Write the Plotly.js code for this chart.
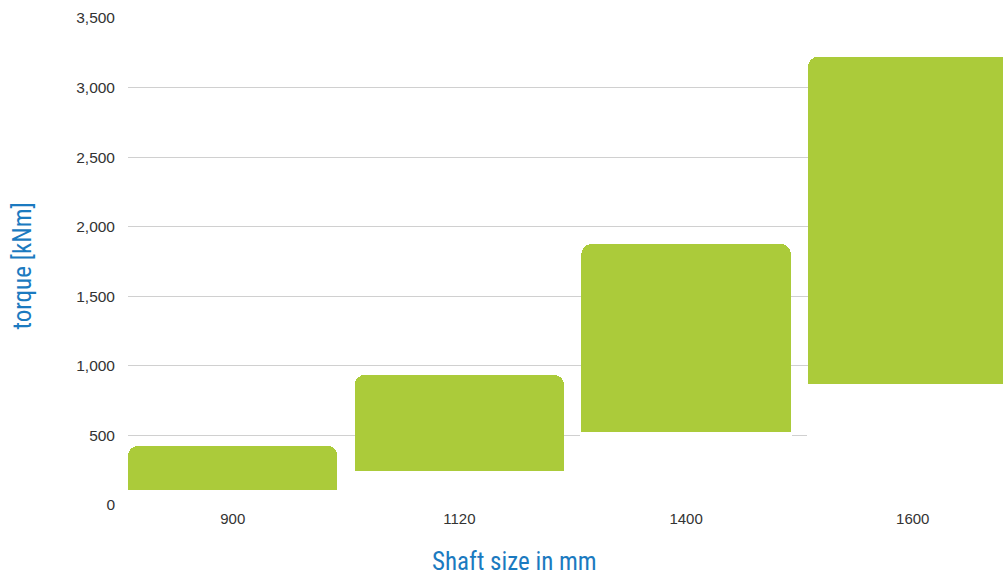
<!DOCTYPE html>
<html><head><meta charset="utf-8">
<script src="https://cdn.plot.ly/plotly-3.0.1.min.js"></script>
<style>html,body{margin:0;padding:0;background:#fff;}#c{width:1003px;height:578px;}</style>
</head><body><div id="c"></div>
<script>
const categories = ['900', '1120', '1400', '1600'];
const torqueMin = [108, 244, 525, 870];
const torqueMax = [425, 935, 1876, 3222];
const yTickVals = [0, 500, 1000, 1500, 2000, 2500, 3000, 3500];

const span = torqueMax.map((v, i) => v - torqueMin[i]);

const traces = [
  {type: 'bar', x: categories, y: torqueMin, marker: {color: '#ffffff', line: {color: '#ffffff', width: 2}}, hoverinfo: 'skip', showlegend: false},
  {type: 'bar', x: categories, y: span, marker: {color: '#abcb3a', line: {width: 0}}, showlegend: false}
];

const titleFont = {family: '"Liberation Sans Narrow", "Roboto Condensed", "DejaVu Sans Condensed", sans-serif', size: 25, color: '#1b7ac0'};

const layout = {
  width: 1003, height: 578,
  margin: {l: 128, r: 0, t: 18, b: 73},
  paper_bgcolor: '#ffffff', plot_bgcolor: '#ffffff',
  barmode: 'stack', bargap: 0.076, barcornerradius: 10,
  font: {family: '"Liberation Sans", Arial, sans-serif', size: 15, color: '#333333'},
  xaxis: {type: 'category', range: [-0.462, 3.398], showgrid: false, zeroline: false, showline: false, ticks: '', tickfont: {size: 15, color: '#333'}, ticklabelstandoff: 3},
  yaxis: {range: [0, 3500], tickvals: yTickVals, tickformat: ',d', showgrid: true, gridcolor: '#d0d0d0', gridwidth: 1, zeroline: false, showline: false, ticks: '', ticklabelstandoff: 12, tickfont: {size: 15.5, color: '#333'}},
  annotations: [
    {text: 'torque [kNm]', xref: 'paper', yref: 'paper', x: -0.121, y: 0.49, xanchor: 'center', yanchor: 'middle', textangle: -90, showarrow: false, font: titleFont},
    {text: 'Shaft size in mm', xref: 'paper', yref: 'paper', x: 0.442, y: -0.116, xanchor: 'center', yanchor: 'middle', showarrow: false, font: titleFont}
  ]
};

Plotly.newPlot('c', traces, layout, {displayModeBar: false, staticPlot: true});
</script></body></html>
